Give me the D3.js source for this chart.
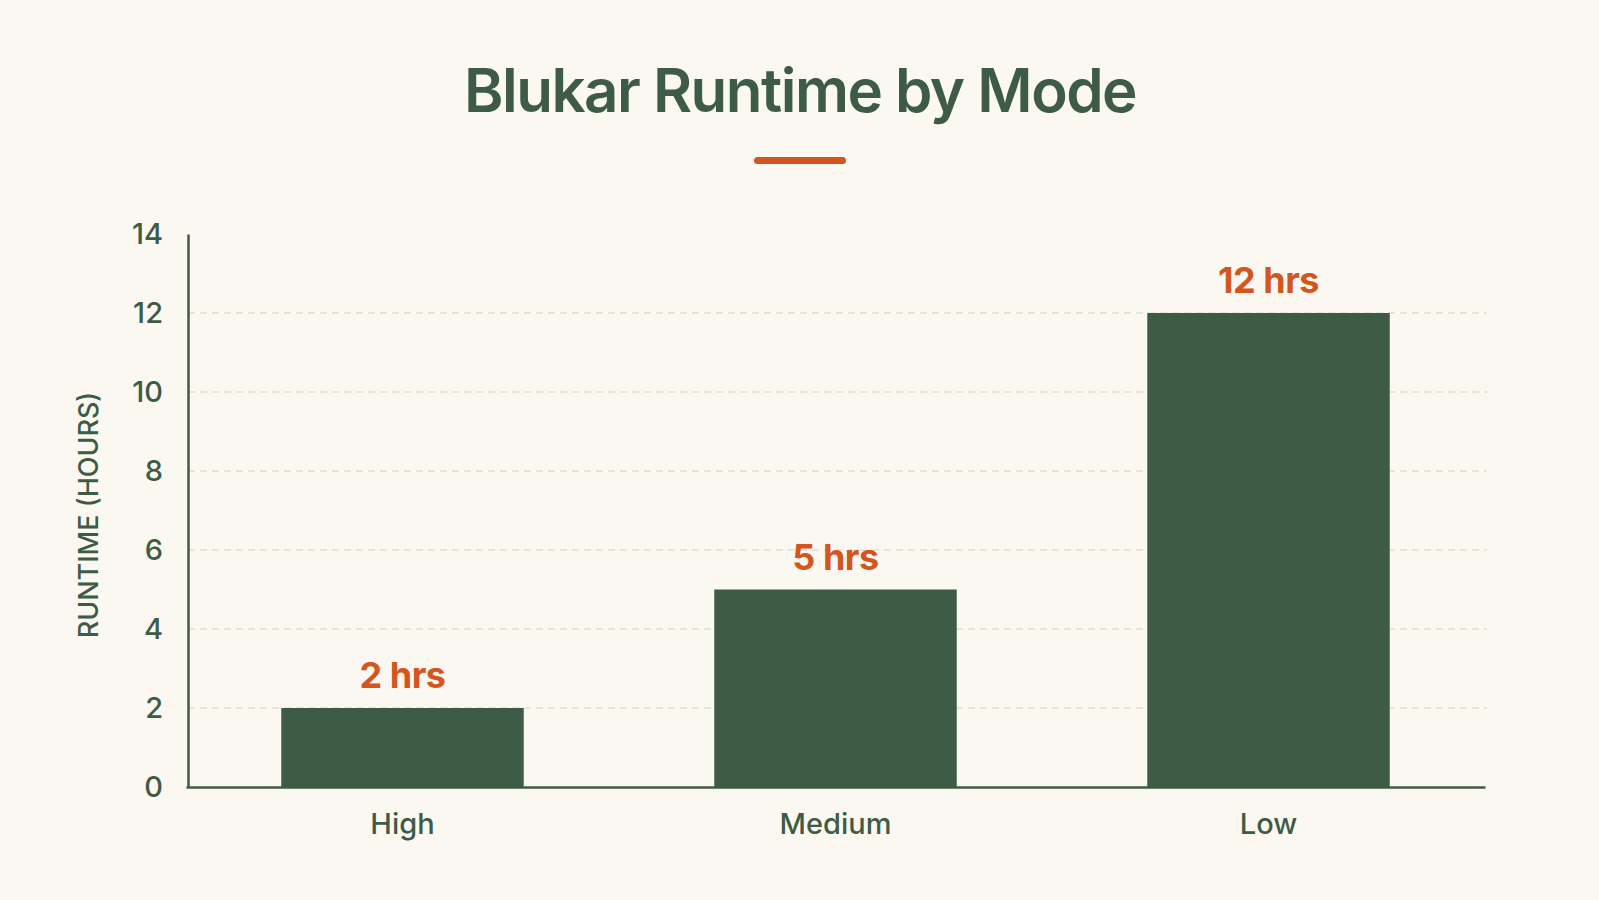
<!DOCTYPE html>
<html>
<head>
<meta charset="utf-8">
<script src="https://cdn.jsdelivr.net/npm/d3@7"></script>
<style>
  html,body{margin:0;padding:0;background:#fbf8f1;}
  #chart{width:1599px;height:900px;}
  text{font-family:Inter,"Noto Sans",sans-serif;}
</style>
</head>
<body>
<div id="chart"></div>
<script>
// runtime per power mode
const modes = ['High','Medium','Low'];
const hours = [2,5,12];
const valueLabels = ['2 hrs','5 hrs','12 hrs'];
const yTicks = [0,2,4,6,8,10,12,14];

(function(){
  const W = 1599, H = 900;
  const margin = {top:234,right:112,bottom:113,left:188};
  const width = W - margin.left - margin.right;
  const height = H - margin.top - margin.bottom;
  const green = '#3e5c45', orange = '#d3561f';

  const svg = d3.select('#chart').append('svg').attr('width',W).attr('height',H);
  svg.append('rect').attr('width',W).attr('height',H).attr('fill','#fbf8f1');

  // title + accent bar
  svg.append('text').attr('x',800).attr('y',112).attr('text-anchor','middle')
    .attr('font-size',60).attr('font-weight',600).attr('fill',green)
    .attr('letter-spacing','-1.5').text('Blukar Runtime by Mode');
  svg.append('rect').attr('x',754).attr('y',157).attr('width',92).attr('height',7)
    .attr('rx',3.5).attr('fill',orange);

  const g = svg.append('g').attr('transform',`translate(${margin.left},${margin.top})`);

  const x = d3.scaleBand().domain(modes).range([-2,width-2]).paddingInner(0.44).paddingOuter(0.22);
  const y = d3.scaleLinear().domain([0,14]).range([height,0]);

  // dashed gridlines
  g.selectAll('.grid').data(yTicks.filter(d=>d>0 && d<14)).enter().append('line')
    .attr('x1',0).attr('x2',width).attr('y1',d=>y(d)).attr('y2',d=>y(d))
    .attr('stroke','#e0dbd0').attr('stroke-width',1.3).attr('stroke-dasharray','7,5');

  // bars
  g.selectAll('.bar').data(hours).enter().append('rect')
    .attr('x',(d,i)=>x(modes[i])).attr('width',x.bandwidth())
    .attr('y',d=>y(d)).attr('height',d=>height-y(d)).attr('fill',green);

  // value labels
  g.selectAll('.val').data(hours).enter().append('text')
    .attr('x',(d,i)=>x(modes[i])+x.bandwidth()/2).attr('y',d=>y(d)-20)
    .attr('text-anchor','middle').attr('font-size',36).attr('font-weight',700)
    .attr('fill',orange).attr('letter-spacing','-0.5').text((d,i)=>valueLabels[i]);

  // axes
  const yAxis = g.append('g').call(d3.axisLeft(y).tickValues(yTicks).tickSize(0).tickPadding(25));
  yAxis.select('.domain').attr('stroke',green).attr('stroke-width',2.5);
  yAxis.selectAll('text').attr('font-size',29).attr('font-weight',500).attr('fill',green)
    .attr('font-family','Inter,sans-serif');

  const xAxis = g.append('g').attr('transform',`translate(0,${height})`)
    .call(d3.axisBottom(x).tickSize(0).tickPadding(26));
  xAxis.select('.domain').attr('stroke',green).attr('stroke-width',2.5);
  xAxis.selectAll('text').attr('font-size',29).attr('font-weight',500).attr('fill',green)
    .attr('font-family','Inter,sans-serif').attr('dy','0.71em');

  // y axis title
  svg.append('text').attr('transform','translate(98,515) rotate(-90)')
    .attr('text-anchor','middle').attr('font-size',27).attr('font-weight',500)
    .attr('fill',green).text('RUNTIME (HOURS)');
})();
</script>
</body>
</html>
